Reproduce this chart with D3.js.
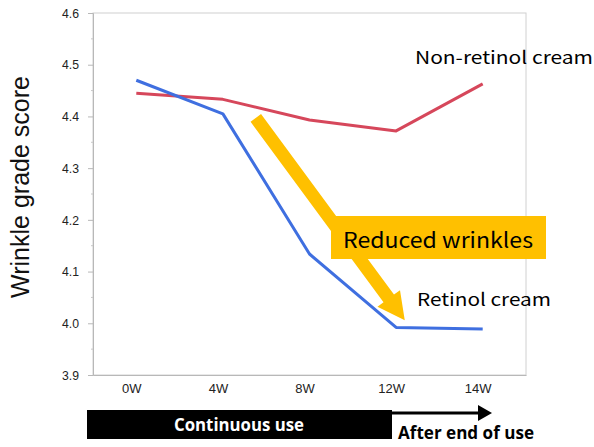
<!DOCTYPE html>
<html>
<head>
<meta charset="utf-8">
<script src="https://cdn.jsdelivr.net/npm/d3@7"></script>
<style>
  html, body { margin: 0; padding: 0; background: #fff; }
  svg { display: block; }
</style>
</head>
<body>
<svg id="chart" width="594" height="447"></svg>
<script>
// Weeks of measurement
const weeks = ["0W", "4W", "8W", "12W", "14W"];
// Mean wrinkle grade score per week
const retinolScores = [4.470, 4.405, 4.134, 3.992, 3.989];
const nonRetinolScores = [4.445, 4.433, 4.393, 4.372, 4.463];
// Y axis ticks
const yTicks = [3.9, 4.0, 4.1, 4.2, 4.3, 4.4, 4.5, 4.6];

const svg = d3.select("#chart");
const plot = { left: 93, right: 526, top: 13, bottom: 375 };

const x = d3.scalePoint().domain(weeks).range([plot.left, plot.right]).padding(0.5);
const y = d3.scaleLinear().domain([3.9, 4.6]).range([plot.bottom, plot.top]);
// fractional category position for annotations
const xi = i => x(weeks[0]) + i * x.step();

// plot frame
svg.append("rect")
  .attr("x", plot.left).attr("y", plot.top)
  .attr("width", plot.right - plot.left).attr("height", plot.bottom - plot.top)
  .attr("fill", "none").attr("stroke", "#d0d0d0").attr("stroke-width", 1);

// y axis with major and minor ticks
const yAxis = d3.axisLeft(y).tickValues(yTicks).tickFormat(d3.format(".1f")).tickSize(5).tickPadding(9);
const gy = svg.append("g").attr("transform", `translate(${plot.left},0)`).call(yAxis);
gy.select(".domain").attr("stroke", "#b8b8b8");
gy.selectAll(".tick line").attr("stroke", "#b8b8b8");
gy.selectAll(".tick text")
  .attr("font-family", "Liberation Sans, Arial, sans-serif")
  .attr("font-size", 13).attr("fill", "#222")
  .attr("textLength", 17).attr("lengthAdjust", "spacingAndGlyphs");

const minor = d3.range(3.95, 4.6, 0.1);
svg.append("g").selectAll("line").data(minor).join("line")
  .attr("x1", plot.left - 2).attr("x2", plot.left)
  .attr("y1", d => y(d)).attr("y2", d => y(d))
  .attr("stroke", "#c8c8c8");

// x axis
const xAxis = d3.axisBottom(x).tickSize(0).tickPadding(9);
const gx = svg.append("g").attr("transform", `translate(0,${plot.bottom})`).call(xAxis);
gx.select(".domain").attr("stroke", "#b8b8b8");
gx.selectAll(".tick text")
  .attr("dx", -5)
  .attr("font-family", "Liberation Sans, Arial, sans-serif")
  .attr("font-size", 13).attr("fill", "#222");

// y axis title
svg.append("text")
  .attr("transform", `translate(29,187) rotate(-90)`)
  .attr("text-anchor", "middle")
  .attr("font-family", "Liberation Sans, Arial, sans-serif")
  .attr("font-size", 25).attr("fill", "#111")
  .text("Wrinkle grade score");

// series lines
const line = d3.line().x((d, i) => x(weeks[i])).y(d => y(d));
svg.append("path").datum(nonRetinolScores)
  .attr("d", line).attr("fill", "none")
  .attr("stroke", "#d6475b").attr("stroke-width", 3).attr("stroke-linejoin", "round");
svg.append("path").datum(retinolScores)
  .attr("d", line).attr("fill", "none")
  .attr("stroke", "#3f6fe0").attr("stroke-width", 3).attr("stroke-linejoin", "round");

// yellow trend arrow
const aStart = [xi(1.38), y(4.397)];
const aTip = [xi(3.10), y(4.006)];
const dx = aTip[0] - aStart[0], dy = aTip[1] - aStart[1];
const len = Math.hypot(dx, dy);
const ux = dx / len, uy = dy / len, px = -uy, py = ux;
const shaftW = 6.5, headW = 14, headL = 27;
const bx = aTip[0] - ux * headL, by = aTip[1] - uy * headL;
const arrowPts = [
  [aStart[0] + px * shaftW, aStart[1] + py * shaftW],
  [bx + px * shaftW, by + py * shaftW],
  [bx + px * headW, by + py * headW],
  aTip,
  [bx - px * headW, by - py * headW],
  [bx - px * shaftW, by - py * shaftW],
  [aStart[0] - px * shaftW, aStart[1] - py * shaftW]
];
svg.append("path")
  .attr("d", "M" + arrowPts.map(p => p.join(",")).join("L") + "Z")
  .attr("fill", "#ffc000");

// callout box
svg.append("rect")
  .attr("x", 331).attr("y", 216).attr("width", 215).attr("height", 43)
  .attr("fill", "#ffc000");
svg.append("text")
  .attr("x", 343).attr("y", 248)
  .attr("font-family", "Noto Sans CJK JP, sans-serif")
  .attr("font-size", 21).attr("fill", "#000")
  .attr("textLength", 190).attr("lengthAdjust", "spacingAndGlyphs")
  .text("Reduced wrinkles");

// series labels
svg.append("text")
  .attr("x", 415).attr("y", 64)
  .attr("font-family", "Noto Sans CJK JP, sans-serif")
  .attr("font-size", 17.5).attr("fill", "#000")
  .attr("textLength", 178).attr("lengthAdjust", "spacingAndGlyphs")
  .text("Non-retinol cream");
svg.append("text")
  .attr("x", 417).attr("y", 306)
  .attr("font-family", "Noto Sans CJK JP, sans-serif")
  .attr("font-size", 17.5).attr("fill", "#000")
  .attr("textLength", 134).attr("lengthAdjust", "spacingAndGlyphs")
  .text("Retinol cream");

// period bar along the bottom
svg.append("line")
  .attr("x1", 390).attr("x2", 480).attr("y1", 413).attr("y2", 413)
  .attr("stroke", "#000").attr("stroke-width", 3);
svg.append("path")
  .attr("d", "M478,405L492,413L478,421Z").attr("fill", "#000");
svg.append("rect")
  .attr("x", 87).attr("y", 410).attr("width", 305).attr("height", 29)
  .attr("fill", "#000");
svg.append("text")
  .attr("x", 239).attr("y", 431).attr("text-anchor", "middle")
  .attr("font-family", "Open Sans, sans-serif").attr("font-weight", "bold")
  .attr("font-size", 17).attr("fill", "#fff")
  .attr("textLength", 130).attr("lengthAdjust", "spacingAndGlyphs")
  .text("Continuous use");
svg.append("text")
  .attr("x", 398).attr("y", 439)
  .attr("font-family", "Open Sans, sans-serif").attr("font-weight", "bold")
  .attr("font-size", 17).attr("fill", "#000")
  .attr("textLength", 136).attr("lengthAdjust", "spacingAndGlyphs")
  .text("After end of use");
</script>
</body>
</html>
